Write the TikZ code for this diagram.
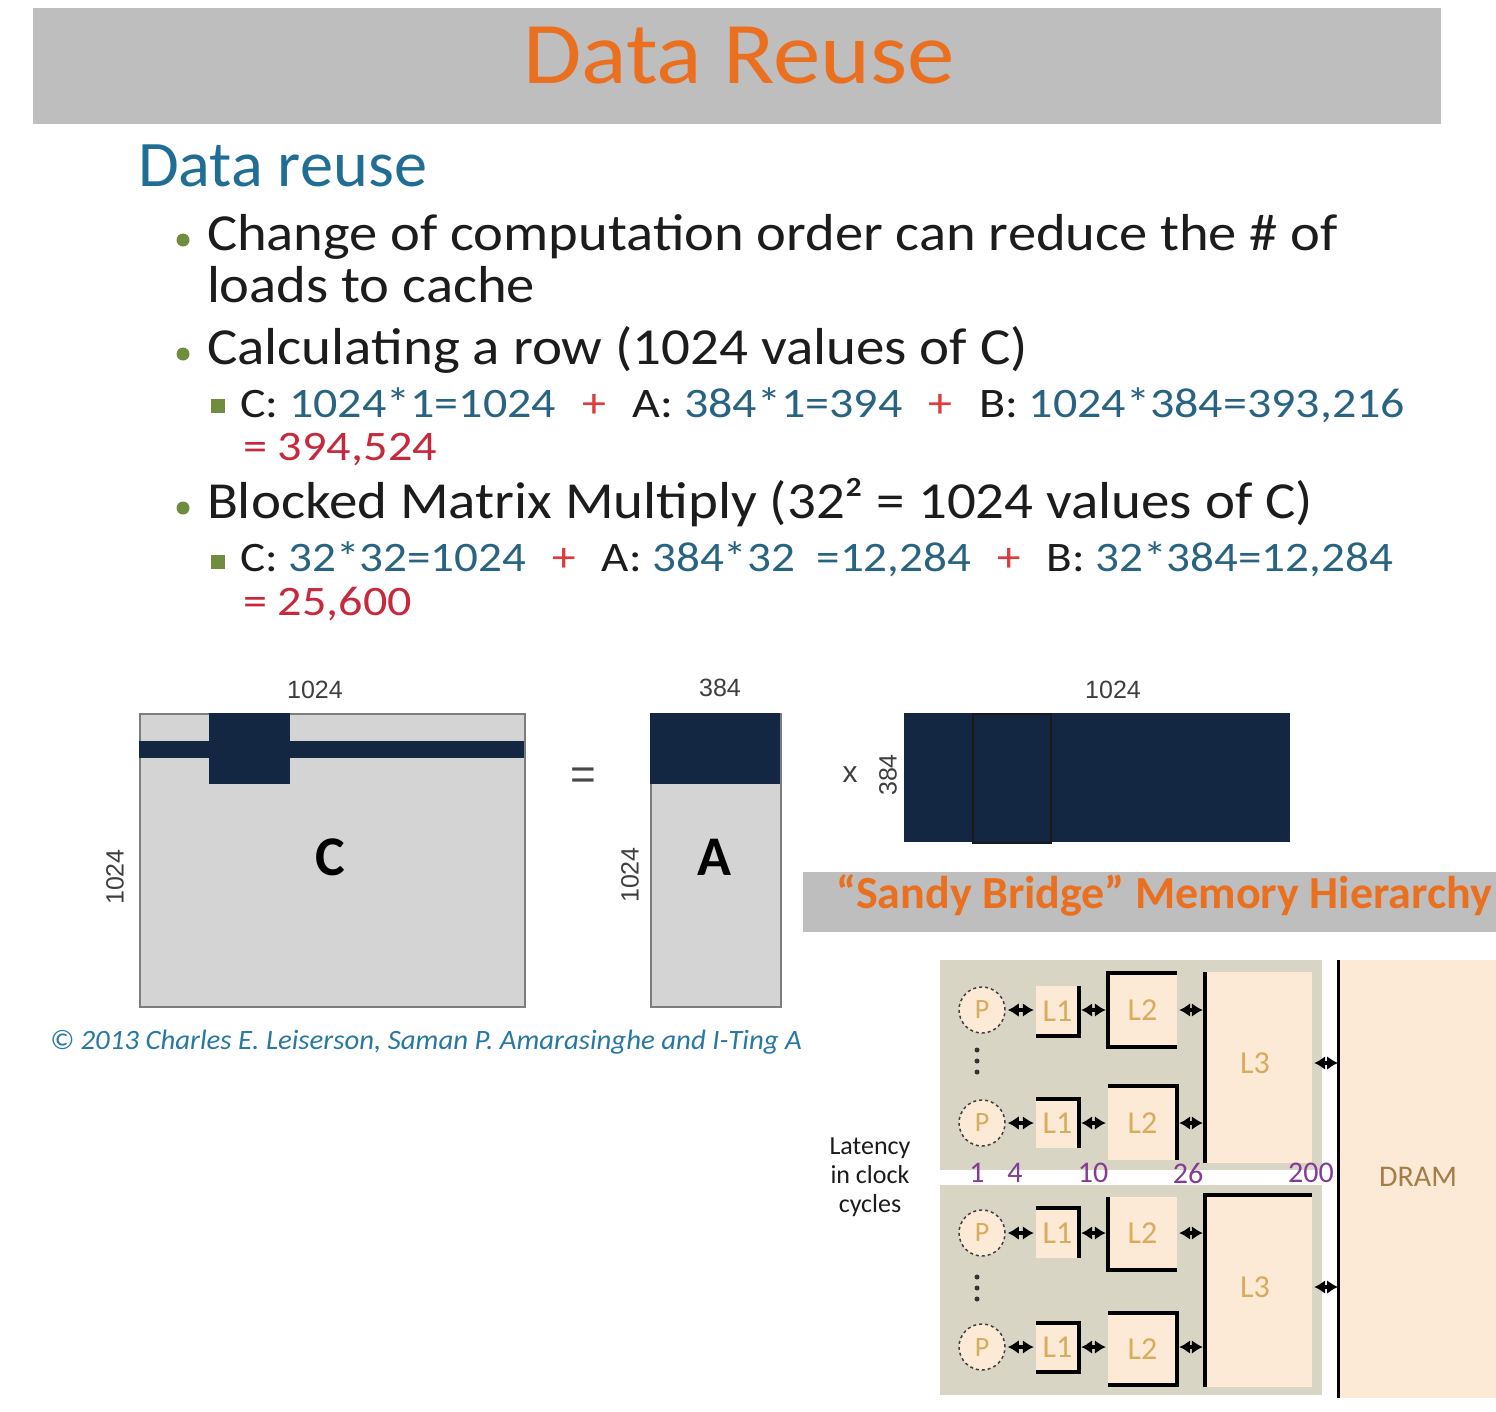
\documentclass[tikz,border=0pt]{standalone}
\usepackage{fontspec}
\usepackage{graphicx}
\setmainfont{Carlito}
\newfontfamily\arialf{Liberation Sans}
\usetikzlibrary{arrows.meta}
\definecolor{barGray}{RGB}{190,190,190}
\definecolor{titleOrange}{RGB}{234,112,32}
\definecolor{headTeal}{RGB}{32,110,150}
\definecolor{bulGreen}{RGB}{112,140,62}
\definecolor{numTeal}{RGB}{40,100,130}
\definecolor{plusRed}{RGB}{222,60,60}
\definecolor{resRed}{RGB}{200,40,60}
\definecolor{txtDark}{RGB}{28,28,28}
\definecolor{matDark}{RGB}{19,38,66}
\definecolor{matLight}{RGB}{212,212,212}
\definecolor{matEdge}{RGB}{125,125,125}
\definecolor{panelGray}{RGB}{217,213,197}
\definecolor{peach}{RGB}{252,234,214}
\definecolor{gold}{RGB}{215,172,92}
\definecolor{latPurple}{RGB}{130,60,150}
\definecolor{copyTeal}{RGB}{40,120,165}
\definecolor{dramBrown}{RGB}{165,125,70}
\newcommand\fsz[1]{\fontsize{#1}{#1}\selectfont}
\newsavebox\fitbox
\newlength\fitlen
\newcommand\fitw[2]{\sbox\fitbox{#2}\setlength\fitlen{\wd\fitbox}\pgfmathsetmacro\fitr{#1/\fitlen}\scalebox{\fitr}[1]{\usebox\fitbox}}
\newcommand\plusgap{\hspace{0.55em}}
\tikzset{
  txt/.style={inner sep=0pt, outer sep=0pt},
  bul/.style={circle, fill=bulGreen, minimum size=13pt, inner sep=0pt},
  subsq/.style={rectangle, fill=bulGreen, minimum size=14pt, inner sep=0pt},
  lab/.style={inner sep=0pt, font=\arialf\fsz{25}, text=txtDark!85},
  matname/.style={inner sep=0pt, font=\bfseries\fsz{56}, text=black},
  pnode/.style={circle, draw=black!75, dashed, line width=1.5pt, fill=peach, minimum size=46pt, inner sep=0pt, font=\fsz{28}, text=gold},
  cache/.style={rectangle, fill=peach, inner sep=0pt, font=\fsz{32}, text=gold},
  bordline/.style={line width=3.5pt, black},
  dbl/.style={{Latex[length=11pt,width=14pt]}-{Latex[length=11pt,width=14pt]}, line width=3.5pt, black, shorten <=2pt, shorten >=2pt},
  latnum/.style={inner sep=0pt, font=\fsz{30}, text=latPurple},
  vdot/.style={circle, fill=black!80, minimum size=5pt, inner sep=0pt}
}
\begin{document}
\begin{tikzpicture}[x=1pt,y=-1pt]
\useasboundingbox (0,0) rectangle (1496,1411);
\fill[white] (0,0) rectangle (1496,1411);
% title
\fill[barGray] (33,8) rectangle (1441,124);
\node[txt, anchor=base, font=\fsz{88}, text=titleOrange] (title) at (739,83) {\fitw{432}{Data Reuse}};
\node[txt, anchor=base west, font=\fsz{65}, text=headTeal] (head) at (138,186) {\fitw{289}{Data reuse}};
% bullets
\node[bul] (b1) at (183,240) {};
\node[txt, anchor=base west, font=\fsz{52}, text=txtDark] (l1) at (207,250) {\fitw{1131}{Change of computation order can reduce the \# of}};
\node[txt, anchor=base west, font=\fsz{52}, text=txtDark] (l2) at (207,302) {\fitw{328}{loads to cache}};
\node[bul] (b3) at (183,354) {};
\node[txt, anchor=base west, font=\fsz{52}, text=txtDark] (l3) at (207,364) {\fitw{821}{Calculating a row (1024 values of C)}};
\node[subsq] (s1sq) at (218,406) {};
\node[txt, anchor=base west, font=\fsz{42}, text=txtDark] (s1) at (240,417) {\fitw{1165}{C: \textcolor{numTeal}{1024*1=1024}\plusgap\textcolor{plusRed}{+}\plusgap A: \textcolor{numTeal}{384*1=394}\plusgap\textcolor{plusRed}{+}\plusgap B: \textcolor{numTeal}{1024*384=393,216}}};
\node[txt, anchor=base west, font=\fsz{42}, text=resRed] (r1) at (243,460) {\fitw{194}{= 394,524}};
\node[bul] (b4) at (183,508) {};
\node[txt, anchor=base west, font=\fsz{52}, text=txtDark] (l4) at (207,518) {\fitw{1106}{Blocked Matrix Multiply (32² = 1024 values of C)}};
\node[subsq] (s2sq) at (218,562) {};
\node[txt, anchor=base west, font=\fsz{42}, text=txtDark] (s2) at (240,571) {\fitw{1153}{C: \textcolor{numTeal}{32*32=1024}\plusgap\textcolor{plusRed}{+}\plusgap A: \textcolor{numTeal}{384*32 \ =12,284}\plusgap\textcolor{plusRed}{+}\plusgap B: \textcolor{numTeal}{32*384=12,284}}};
\node[txt, anchor=base west, font=\fsz{42}, text=resRed] (r2) at (243,615) {\fitw{169}{= 25,600}};
% matrix C
\node[draw=matEdge, line width=1.5pt, fill=matLight, minimum width=385pt, minimum height=293pt, inner sep=0pt, anchor=north west] (Cmat) at (139,713) {};
\fill[matDark] (139,741) rectangle (524,758);
\fill[matDark] (209,713) rectangle (290,784);
\node[lab] (cTop) at (315,690) {1024};
\node[lab, rotate=90] (cLeft) at (115,877) {1024};
\node[matname] (cName) at (330,857) {C};
\node[inner sep=0pt, font=\arialf\fsz{44}, text=txtDark!80] (eq) at (583,779) {=};
% matrix A
\node[draw=matEdge, line width=1.5pt, fill=matLight, minimum width=130pt, minimum height=293pt, inner sep=0pt, anchor=north west] (Amat) at (650,713) {};
\fill[matDark] (650,713) rectangle (780,784);
\node[lab] (aTop) at (720,688) {384};
\node[lab, rotate=90] (aLeft) at (630,875) {1024};
\node[matname] (aName) at (714,857) {A};
% matrix B
\node[inner sep=0pt, font=\arialf\fsz{30}, text=txtDark!85] (times) at (850,775) {x};
\node[lab, rotate=90] (bLeft) at (888,775) {384};
\node[fill=matDark, minimum width=386pt, minimum height=129pt, inner sep=0pt, anchor=north west] (Bmat) at (904,713) {};
\node[draw=black!90, line width=1.5pt, fill=matDark, minimum width=78pt, minimum height=129pt, inner sep=0pt, anchor=north west] (Bcol) at (972,713) {};
\node[lab] (bTop) at (1113,690) {1024};
% copyright
\node[txt, anchor=base west, font=\itshape\fsz{28}, text=copyTeal] (copy) at (50,1049) {\fitw{752}{© 2013 Charles E. Leiserson, Saman P. Amarasinghe and I-Ting A}};
% memory hierarchy overlay
\fill[white] (803,932) rectangle (1496,1411);
\fill[barGray] (803,872) rectangle (1496,932);
\node[txt, anchor=base west, font=\bfseries\fsz{46}, text=titleOrange] (sandy) at (836,908) {\fitw{656}{“Sandy Bridge” Memory Hierarchy}};
\fill[panelGray] (940,960) rectangle (1322,1170);
\fill[panelGray] (940,1185) rectangle (1322,1395);
\node[fill=peach, minimum width=156pt, minimum height=438pt, inner sep=0pt, anchor=north west] (dram) at (1340,960) {};
\draw[bordline, line width=3pt] (dram.north west) ++(-2,0) coordinate (dlTop) -- (dlTop |- dram.south west);
\node[inner sep=0pt, font=\fsz{30}, text=dramBrown] (dramLbl) at (1418,1177) {DRAM};
% L3
\node[cache, minimum width=107pt, minimum height=191pt] (L3u) at (1258.5,1067.5) {};
\node[cache, minimum width=107pt, minimum height=192pt] (L3l) at (1258.5,1291) {};
\node[inner sep=0pt, font=\fsz{32}, text=gold] (L3uLbl) at (1255,1063) {L3};
\node[inner sep=0pt, font=\fsz{32}, text=gold] (L3lLbl) at (1255,1287) {L3};
\draw[bordline] (L3u.north west) -- (L3u.south west);
\draw[bordline] (L3l.north east) -- (L3l.north west) -- (L3l.south west);
% processors
\node[pnode] (P1) at (982,1010) {P};
\node[pnode] (P2) at (982,1123) {P};
\node[pnode] (P3) at (982,1233) {P};
\node[pnode] (P4) at (982,1347) {P};
% L1
\node[cache, minimum width=43pt, minimum height=50pt] (L1a) at (1057.5,1011) {L1};
\node[cache, minimum width=43pt, minimum height=49pt] (L1b) at (1057.5,1123.5) {L1};
\node[cache, minimum width=43pt, minimum height=50pt] (L1c) at (1057.5,1233) {L1};
\node[cache, minimum width=43pt, minimum height=49pt] (L1d) at (1057.5,1347.5) {L1};
\draw[bordline] (L1a.north east) -- (L1a.south east) -- (L1a.south west);
\draw[bordline] (L1b.north west) -- (L1b.north east) -- (L1b.south east);
\draw[bordline] (L1c.north west) -- (L1c.north east) -- (L1c.south east);
\draw[bordline] (L1d.north west) -- (L1d.north east) -- (L1d.south east) -- (L1d.south west);
% L2
\node[cache, minimum width=69pt, minimum height=74pt] (L2a) at (1142.5,1010) {L2};
\node[cache, minimum width=69pt, minimum height=74pt] (L2b) at (1142.5,1123) {L2};
\node[cache, minimum width=69pt, minimum height=73pt] (L2c) at (1142.5,1233.5) {L2};
\node[cache, minimum width=69pt, minimum height=72pt] (L2d) at (1142.5,1349) {L2};
\draw[bordline] (L2a.north east) -- (L2a.north west) -- (L2a.south west) -- (L2a.south east);
\draw[bordline] (L2b.north west) -- (L2b.north east) -- (L2b.south east);
\draw[bordline] (L2c.north west) -- (L2c.south west) -- (L2c.south east);
\draw[bordline] (L2d.north west) -- (L2d.north east) -- (L2d.south east) -- (L2d.south west);
% connectors
\foreach \r/\s in {1/a,2/b,3/c,4/d}{
  \draw[dbl] (P\r.east) -- (L1\s.west |- P\r.east);
  \draw[dbl] (L1\s.east |- P\r.east) -- (L2\s.west |- P\r.east);
}
\draw[dbl] (L2a.east |- P1.east) -- (L3u.west |- P1.east);
\draw[dbl] (L2b.east |- P2.east) -- (L3u.west |- P2.east);
\draw[dbl] (L2c.east |- P3.east) -- (L3l.west |- P3.east);
\draw[dbl] (L2d.east |- P4.east) -- (L3l.west |- P4.east);
\draw[dbl, shorten >=0pt] (L3u.east |- L3uLbl) -- (dlTop |- L3uLbl);
\draw[dbl, shorten >=0pt] (L3l.east |- L3lLbl) -- (dlTop |- L3lLbl);
% vertical dots
\node[vdot] (d1) at (977,1050) {};
\node[vdot] (d2) at (977,1061) {};
\node[vdot] (d3) at (977,1072) {};
\node[vdot] (d4) at (977,1277) {};
\node[vdot] (d5) at (977,1288) {};
\node[vdot] (d6) at (977,1299) {};
% latency
\node[inner sep=0pt, align=center, font=\fontsize{26}{29}\selectfont, text=txtDark] (lat) at (870,1177) {Latency\\in clock\\cycles};
\node[latnum] (n1) at (977,1173) {1};
\node[latnum] (n4) at (1015,1173) {4};
\node[latnum] (n10) at (1093,1173) {10};
\node[latnum] (n26) at (1188,1173) {26};
\node[latnum] (n200) at (1311,1173) {200};
\end{tikzpicture}
\end{document}
